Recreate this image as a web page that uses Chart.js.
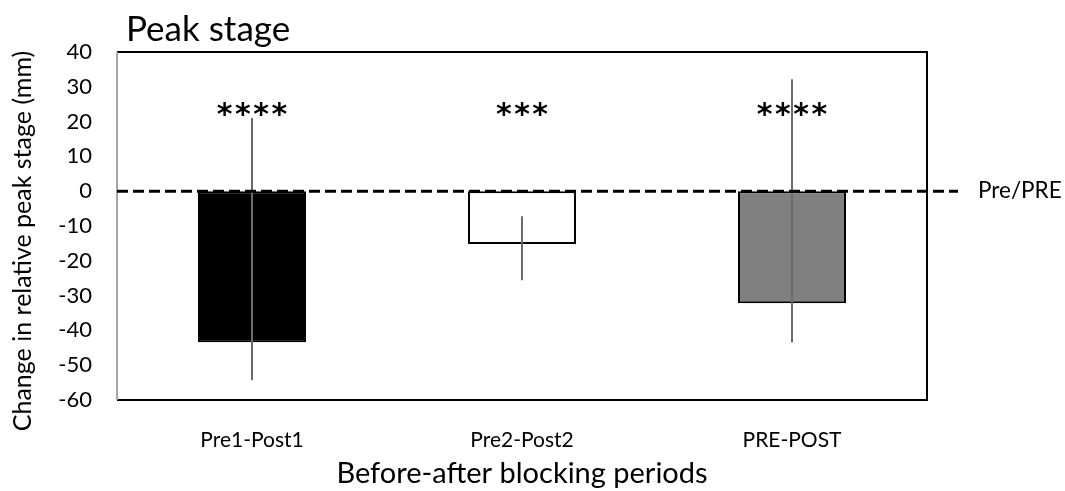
<!DOCTYPE html>
<html>
<head>
<meta charset="utf-8">
<script src="https://cdn.jsdelivr.net/npm/chart.js@4/dist/chart.umd.min.js"></script>
<style>
html,body{margin:0;padding:0;background:#fff;}
#wrap{width:1065px;height:491px;}
</style>
</head>
<body>
<div id="wrap"><canvas id="c" width="1065" height="491"></canvas></div>
<script>
// ---- data ----
const categories = ['Pre1-Post1', 'Pre2-Post2', 'PRE-POST'];
const values = [-43.4, -15.2, -32.2];
const errUpper = [21.0, -7.2, 32.2];
const errLower = [-54.3, -25.6, -43.4];
const stars = ['****', '***', '****'];
const yTicks = [40, 30, 20, 10, 0, -10, -20, -30, -40, -50, -60];
const refLabel = 'Pre/PRE';
const titleText = 'Peak stage';
const xTitle = 'Before-after blocking periods';
const yTitle = 'Change in relative peak stage (mm)';

const FONT = 'Lato, "Open Sans", sans-serif';

const overlay = {
  id: 'overlay',
  afterDatasetsDraw(chart) {
    const ctx = chart.ctx;
    const x = chart.scales.x, y = chart.scales.y;
    const ca = chart.chartArea;
    ctx.save();
    // frame
    ctx.lineWidth = 2;
    ctx.strokeStyle = '#000';
    ctx.beginPath();
    ctx.moveTo(ca.left, ca.top); ctx.lineTo(ca.right, ca.top);
    ctx.lineTo(ca.right, ca.bottom); ctx.lineTo(ca.left, ca.bottom);
    ctx.stroke();
    ctx.strokeStyle = '#a6a6a6';
    ctx.beginPath();
    ctx.moveTo(ca.left, ca.top); ctx.lineTo(ca.left, ca.bottom);
    ctx.stroke();
    // error bars
    ctx.strokeStyle = '#6b6b6b';
    ctx.lineWidth = 2;
    categories.forEach((c, i) => {
      const px = x.getPixelForValue(i);
      ctx.beginPath();
      ctx.moveTo(px, y.getPixelForValue(errUpper[i]));
      ctx.lineTo(px, y.getPixelForValue(errLower[i]));
      ctx.stroke();
    });
    // reference dashed line at 0
    const y0 = y.getPixelForValue(0);
    ctx.strokeStyle = '#000';
    ctx.lineWidth = 3;
    ctx.setLineDash([11, 5]);
    ctx.beginPath();
    ctx.moveTo(ca.left, y0);
    ctx.lineTo(ca.right + 31, y0);
    ctx.stroke();
    ctx.setLineDash([]);
    // ref label
    ctx.fillStyle = '#000';
    ctx.font = '22.5px ' + FONT;
    ctx.textAlign = 'left';
    ctx.textBaseline = 'middle';
    ctx.fillText(refLabel, ca.right + 51, y0);
    // stars
    ctx.font = 'bold 30px "DejaVu Sans", sans-serif';
    ctx.textAlign = 'center';
    ctx.letterSpacing = '2.5px';
    categories.forEach((c, i) => {
      ctx.fillText(stars[i], x.getPixelForValue(i) + 1.25, y.getPixelForValue(21.5));
    });
    ctx.letterSpacing = '0px';
    // y axis title
    ctx.save();
    ctx.translate(23, 241);
    ctx.rotate(-Math.PI / 2);
    ctx.font = '25px ' + FONT;
    ctx.textAlign = 'center';
    ctx.textBaseline = 'middle';
    ctx.fillText(yTitle, 0, 0);
    ctx.restore();
    // title
    ctx.font = '35px ' + FONT;
    ctx.textAlign = 'left';
    ctx.textBaseline = 'alphabetic';
    ctx.fillText(titleText, 126, 41);
    ctx.restore();
  }
};

new Chart(document.getElementById('c'), {
  type: 'bar',
  data: {
    labels: categories,
    datasets: [{
      data: values,
      backgroundColor: ['#000000', '#ffffff', '#808080'],
      borderColor: '#000000',
      borderWidth: 2,
      borderSkipped: false,
      categoryPercentage: 1.0,
      barPercentage: 0.4
    }]
  },
  options: {
    responsive: false,
    animation: false,
    devicePixelRatio: 1,
    layout: { padding: { top: 52, right: 138, left: 0, bottom: 0 } },
    plugins: { legend: { display: false }, tooltip: { enabled: false }, title: { display: false } },
    scales: {
      x: {
        grid: { display: false, drawTicks: false },
        border: { display: false },
        ticks: { color: '#000', font: { family: FONT, size: 21 }, padding: 28 },
        title: { display: true, text: xTitle, color: '#000', font: { family: FONT, size: 29 }, padding: { top: 0, bottom: 0 } },
        afterFit(s) { s.height = 91; }
      },
      y: {
        min: -60, max: 40,
        grid: { display: false, drawTicks: false },
        border: { display: false },
        afterBuildTicks(s) { s.ticks = yTicks.map(v => ({ value: v })); },
        ticks: { color: '#000', font: { family: FONT, size: 22 }, padding: 25, stepSize: 10 },
        title: { display: false },
        afterFit(s) { s.width = 117; }
      }
    }
  },
  plugins: [overlay]
});
</script>
</body>
</html>
